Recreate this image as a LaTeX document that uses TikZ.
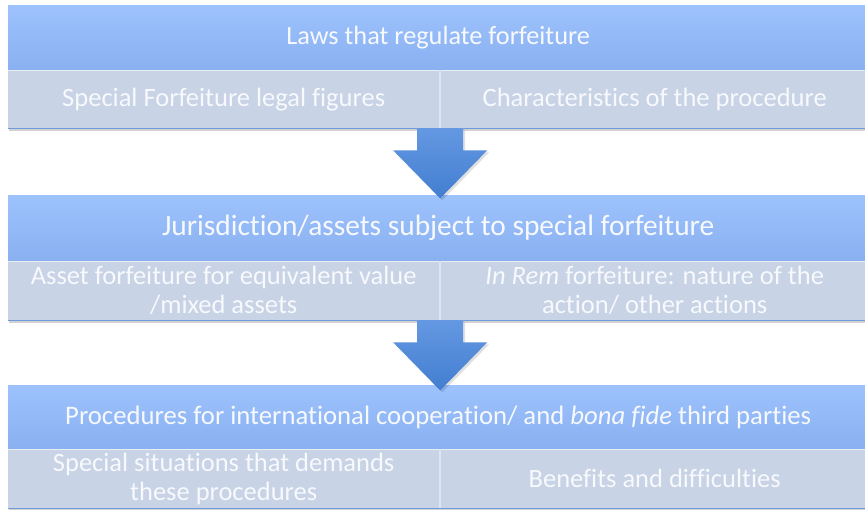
\documentclass[tikz,border=0pt]{standalone}
\usepackage{fontspec}
\setmainfont{Carlito}[Ligatures={NoCommon}]
\usetikzlibrary{calc}
\definecolor{bandtop}{RGB}{157,194,253}
\definecolor{bandbot}{RGB}{137,176,240}
\definecolor{cellfill}{RGB}{200,211,230}
\definecolor{cellgap}{RGB}{222,229,241}
\definecolor{arrowtop}{RGB}{100,152,226}
\definecolor{arrowbot}{RGB}{66,126,208}
\definecolor{txt}{RGB}{247,249,253}
\definecolor{edge}{RGB}{112,154,224}
\begin{document}
\begin{tikzpicture}[x=1pt,y=-1pt,
  band/.style={rectangle, top color=bandtop, bottom color=bandbot, draw=none, inner sep=0pt,
    text=txt, anchor=north west, minimum width=860, minimum height=65, align=center},
  cell/.style={rectangle, fill=cellfill, draw=none, inner sep=0pt, text=txt, anchor=north west,
    minimum height=58, align=center, font=\fontsize{26.5}{29}\selectfont},
  shadowbox/.style={fill=black, opacity=0.18},
  bigarrow/.style={top color=arrowtop, bottom color=arrowbot, draw=none},
  baseline/.style={draw=edge, line width=1.4pt},
  seam/.style={draw=white, opacity=0.6, line width=1pt}
]
\useasboundingbox (0,0) rectangle (865,510);
\fill[white] (0,0) rectangle (865,510);

% ---------- block 1 ----------
\fill[shadowbox] (9,8) rectangle (868,131);
\fill[cellgap] (8,70) rectangle (868,128);
\node[band, font=\fontsize{26.3}{30}\selectfont] (b1) at (8,5) {Laws that regulate forfeiture};
\node[cell, minimum width=431] (c1l) at (8,70) {Special Forfeiture legal figures};
\node[cell, minimum width=427] (c1r) at (441,70) {Characteristics of the procedure};
\draw[seam] (b1.south west) -- (b1.south east);
\draw[baseline] (c1l.south west) -- (c1r.south east);

% ---------- block 2 ----------
\fill[shadowbox] (9,198) rectangle (868,323);
\fill[cellgap] (8,261) rectangle (868,320);
\node[band, minimum height=66, font=\fontsize{29.4}{34}\selectfont] (b2) at (8,195) {Jurisdiction/assets subject to special forfeiture};
\node[cell, minimum width=431, minimum height=59] (c2l) at (8,261) {Asset forfeiture for equivalent value\\/mixed assets};
\node[cell, minimum width=427, minimum height=59] (c2r) at (441,261) {\textit{In Rem} forfeiture: nature of the\\action/ other actions};
\draw[seam] (b2.south west) -- (b2.south east);
\draw[baseline] (c2l.south west) -- (c2r.south east);

% ---------- block 3 ----------
\fill[shadowbox] (9,388) rectangle (868,512);
\fill[cellgap] (8,449) rectangle (868,508);
\node[band, minimum height=64, font=\fontsize{26.7}{31}\selectfont] (b3) at (8,385) {Procedures for international cooperation/ and \textit{bona fide} third parties};
\node[cell, minimum width=431, minimum height=59] (c3l) at (8,449) {Special situations that demands\\these procedures};
\node[cell, minimum width=427, minimum height=59] (c3r) at (441,449) {Benefits and difficulties};
\draw[seam] (b3.south west) -- (b3.south east);
\draw[baseline] (c3l.south west) -- (c3r.south east);

% ---------- arrows ----------
\coordinate (s1) at ($(c1l.south east)!0.5!(c1r.south west)$);
\coordinate (s2) at ($(c2l.south east)!0.5!(c2r.south west)$);
\foreach \s in {s1,s2}{
  \fill[black, opacity=0.12] ($(\s)+(-22,2)$) -- ($(\s)+(25,2)$) -- ($(\s)+(25,24)$) -- ($(\s)+(49,24)$)
     -- ($(\s)+(2,72)$) -- ($(\s)+(-45,24)$) -- ($(\s)+(-22,24)$) -- cycle;
  \path[bigarrow] ($(\s)+(-23,0)$) -- ($(\s)+(23,0)$) -- ($(\s)+(23,22)$) -- ($(\s)+(47,22)$)
     -- ($(\s)+(0,70)$) -- ($(\s)+(-47,22)$) -- ($(\s)+(-23,22)$) -- cycle;
}
\end{tikzpicture}
\end{document}
